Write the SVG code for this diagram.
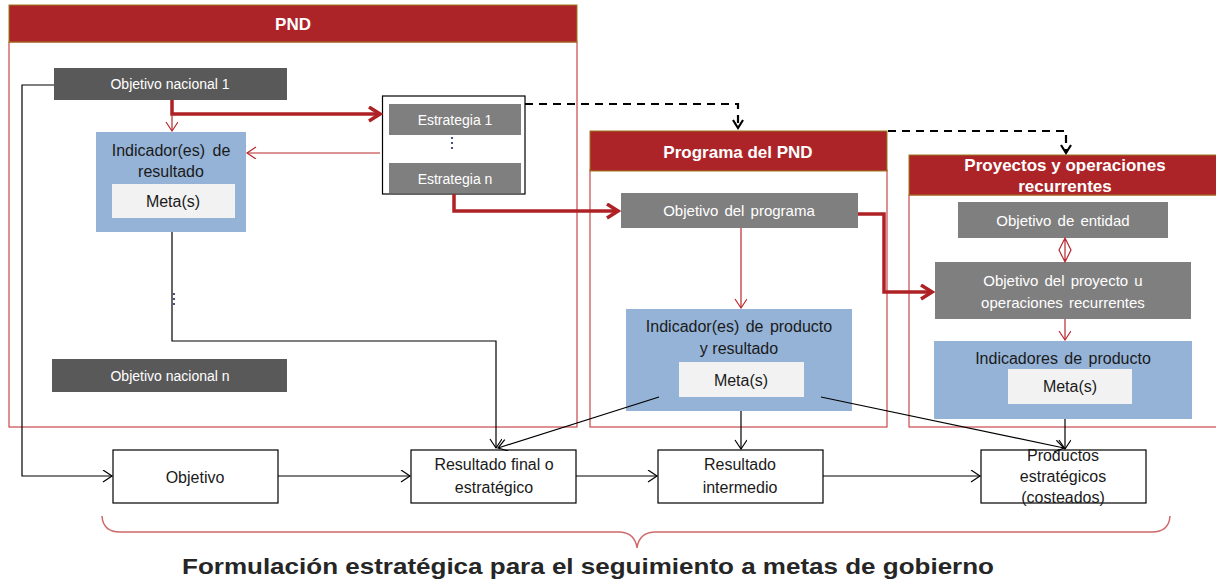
<svg xmlns="http://www.w3.org/2000/svg" width="1216" height="583" viewBox="0 0 1216 583">
<defs>
<style>
text{font-family:"Liberation Sans","DejaVu Sans",sans-serif;}
.hdr{fill:#AC2428;stroke:#9A7B1C;stroke-width:1;}
.body{fill:#fff;stroke:#C9494B;stroke-width:1.2;}
.htxt{fill:#fff;font-size:17px;font-weight:bold;text-anchor:middle;}
.dk{fill:#595959;}
.md{fill:#7F7F7F;}
.bl{fill:#95B3D7;}
.mt{fill:#F2F2F2;}
.wt{fill:#fff;font-size:14px;text-anchor:middle;}
.wt2{fill:#fff;font-size:15px;text-anchor:middle;word-spacing:2px;}
.kt{fill:#1a1a1a;font-size:16px;text-anchor:middle;}
.wb{fill:#fff;stroke:#000;stroke-width:1.2;}
.rt{fill:none;stroke:#B8282C;stroke-width:1.2;}
.rk{fill:none;stroke:#AE2226;stroke-width:3.5;}
.bk{fill:none;stroke:#000;stroke-width:1.2;}
.ds{fill:none;stroke:#000;stroke-width:2.2;stroke-dasharray:8,6;}
</style>
<marker id="mr" markerUnits="userSpaceOnUse" markerWidth="14" markerHeight="14" refX="10" refY="6" orient="auto"><path d="M1,0 L10,6 L1,12" fill="none" stroke="#B8282C" stroke-width="1.2"/></marker>
<marker id="mrk" markerUnits="userSpaceOnUse" markerWidth="16" markerHeight="18" refX="13" refY="8" orient="auto"><path d="M2,1 L13,8 L2,15" fill="none" stroke="#AE2226" stroke-width="3.5"/></marker>
<marker id="mb" markerUnits="userSpaceOnUse" markerWidth="14" markerHeight="14" refX="10" refY="6" orient="auto"><path d="M1,0 L10,6 L1,12" fill="none" stroke="#000" stroke-width="1.2"/></marker>
<marker id="md" markerUnits="userSpaceOnUse" markerWidth="14" markerHeight="14" refX="10" refY="6" orient="auto"><path d="M2,1 L10,6 L2,11" fill="none" stroke="#000" stroke-width="2.2"/></marker>
</defs>
<rect width="1216" height="583" fill="#fff"/>

<g id="pnd">
<rect class="body" x="9" y="42" width="568" height="385"/>
<rect class="hdr" x="9" y="5" width="568" height="37"/>
<text class="htxt" x="293" y="30">PND</text>
</g>
<g id="programa">
<rect class="body" x="590" y="170" width="297" height="257"/>
<rect class="hdr" x="590" y="131" width="297" height="40"/>
<text class="htxt" x="738" y="158">Programa del PND</text>
</g>
<g id="proyectos">
<rect class="body" x="909" y="195" width="320" height="232"/>
<rect class="hdr" x="909" y="155" width="320" height="40"/>
<text class="htxt" x="1065" y="171">Proyectos y operaciones</text>
<text class="htxt" x="1065" y="192">recurrentes</text>
</g>

<g id="objetivo-nacional-1">
<rect class="dk" x="54" y="68" width="233" height="32"/>
<text class="wt" x="170" y="89">Objetivo nacional 1</text>
</g>
<g id="indicador-resultado">
<rect class="bl" x="96" y="132" width="150" height="100"/>
<text class="kt" x="171" y="156" word-spacing="3">Indicador(es) de</text>
<text class="kt" x="171" y="177">resultado</text>
<rect class="mt" x="112" y="184" width="123" height="34"/>
<text class="kt" x="173" y="207">Meta(s)</text>
</g>
<g id="estrategias">
<rect class="wb" x="382.5" y="96" width="142.5" height="98"/>
<rect class="md" x="389" y="104" width="132" height="31"/>
<text class="wt" x="455" y="125">Estrategia 1</text>
<rect class="md" x="389" y="163" width="132" height="30"/>
<text class="wt" x="455" y="184">Estrategia n</text>
<circle cx="452" cy="138" r="1.1" fill="#1F2A5A"/>
<circle cx="452" cy="143" r="1.1" fill="#1F2A5A"/>
<circle cx="452" cy="148" r="1.1" fill="#1F2A5A"/>
</g>
<g id="objetivo-nacional-n">
<rect class="dk" x="52" y="359" width="235" height="33"/>
<text class="wt" x="170" y="381">Objetivo nacional n</text>
</g>
<g id="objetivo-programa">
<rect class="md" x="621" y="193" width="237" height="35"/>
<text class="wt2" x="739" y="216">Objetivo del programa</text>
</g>
<g id="indicador-producto-resultado">
<rect class="bl" x="626" y="309" width="226" height="102"/>
<text class="kt" x="739" y="332" word-spacing="2">Indicador(es) de producto</text>
<text class="kt" x="739" y="354">y resultado</text>
<rect class="mt" x="679" y="362" width="125" height="35"/>
<text class="kt" x="741" y="386">Meta(s)</text>
</g>
<g id="objetivo-entidad">
<rect class="md" x="958" y="202" width="210" height="36"/>
<text class="wt2" x="1063" y="226">Objetivo de entidad</text>
</g>
<g id="objetivo-proyecto">
<rect class="md" x="935" y="262" width="256" height="57"/>
<text class="wt2" x="1063" y="286">Objetivo del proyecto u</text>
<text class="wt2" x="1063" y="308">operaciones  recurrentes</text>
</g>
<g id="indicadores-producto">
<rect class="bl" x="934" y="341" width="258" height="78"/>
<text class="kt" x="1063" y="364" word-spacing="2">Indicadores de producto</text>
<rect class="mt" x="1008" y="369" width="124" height="35"/>
<text class="kt" x="1070" y="392">Meta(s)</text>
</g>

<g id="objetivo">
<rect class="wb" x="113" y="450" width="165" height="53"/>
<text class="kt" x="195" y="483">Objetivo</text>
</g>
<g id="resultado-final">
<rect class="wb" x="411" y="450" width="165" height="53"/>
<text class="kt" x="494" y="470">Resultado final o</text>
<text class="kt" x="494" y="493">estratégico</text>
</g>
<g id="resultado-intermedio">
<rect class="wb" x="658" y="450" width="165" height="53"/>
<text class="kt" x="740" y="470">Resultado</text>
<text class="kt" x="740" y="493">intermedio</text>
</g>
<g id="productos">
<rect class="wb" x="981" y="450" width="165" height="53"/>
<text class="kt" x="1063" y="461">Productos</text>
<text class="kt" x="1063" y="482">estratégicos</text>
<text class="kt" x="1063" y="503">(costeados)</text>
</g>

<g id="connectors">
<path class="rk" d="M172,100 V114 H380" marker-end="url(#mrk)"/>
<path class="rt" d="M172,114 V131" marker-end="url(#mr)"/>
<path class="rt" d="M380,153 H247" marker-end="url(#mr)"/>
<path class="rk" d="M454,194 V211 H618" marker-end="url(#mrk)"/>
<path class="rk" d="M858,214 H884 V292 H932" marker-end="url(#mrk)"/>
<path class="rt" d="M741,228 V308" marker-end="url(#mr)"/>
<path class="rt" d="M1065,319 V340" marker-end="url(#mr)"/>
<path d="M1065,238 L1071,250 L1065,262 L1059,250 Z M1065,238 V262" fill="none" stroke="#B8282C" stroke-width="1.2"/>
<path class="ds" d="M525,104 H738 V128" marker-end="url(#md)"/>
<path class="ds" d="M888,131 H1066 V153" marker-end="url(#md)"/>
<path class="bk" d="M54,85 H22 V476 H112" marker-end="url(#mb)"/>
<path class="bk" d="M172,232 V341 H496 V448" marker-end="url(#mb)"/>
<path class="bk" d="M659,397 L498,448" marker-end="url(#mb)"/>
<path class="bk" d="M278,476 H410" marker-end="url(#mb)"/>
<path class="bk" d="M576,476 H657" marker-end="url(#mb)"/>
<path class="bk" d="M741,411 V449" marker-end="url(#mb)"/>
<path class="bk" d="M823,476 H980" marker-end="url(#mb)"/>
<path class="bk" d="M821,397 L1064,448" marker-end="url(#mb)"/>
<path class="bk" d="M1065,419 V449" marker-end="url(#mb)"/>
<circle cx="174" cy="294" r="1.1" fill="#1F2A5A"/>
<circle cx="174" cy="299" r="1.1" fill="#1F2A5A"/>
<circle cx="174" cy="304" r="1.1" fill="#1F2A5A"/>
</g>

<path d="M102,516 Q103,532 120,532 L620,532 Q635,533 637,548 Q639,533 654,532 L1152,532 Q1169,532 1170,516" fill="none" stroke="#D0686A" stroke-width="1.5"/>
<text x="588" y="574" text-anchor="middle" font-size="22" font-weight="bold" fill="#262626" textLength="812" lengthAdjust="spacingAndGlyphs">Formulación estratégica para el seguimiento a metas de gobierno</text>
</svg>
